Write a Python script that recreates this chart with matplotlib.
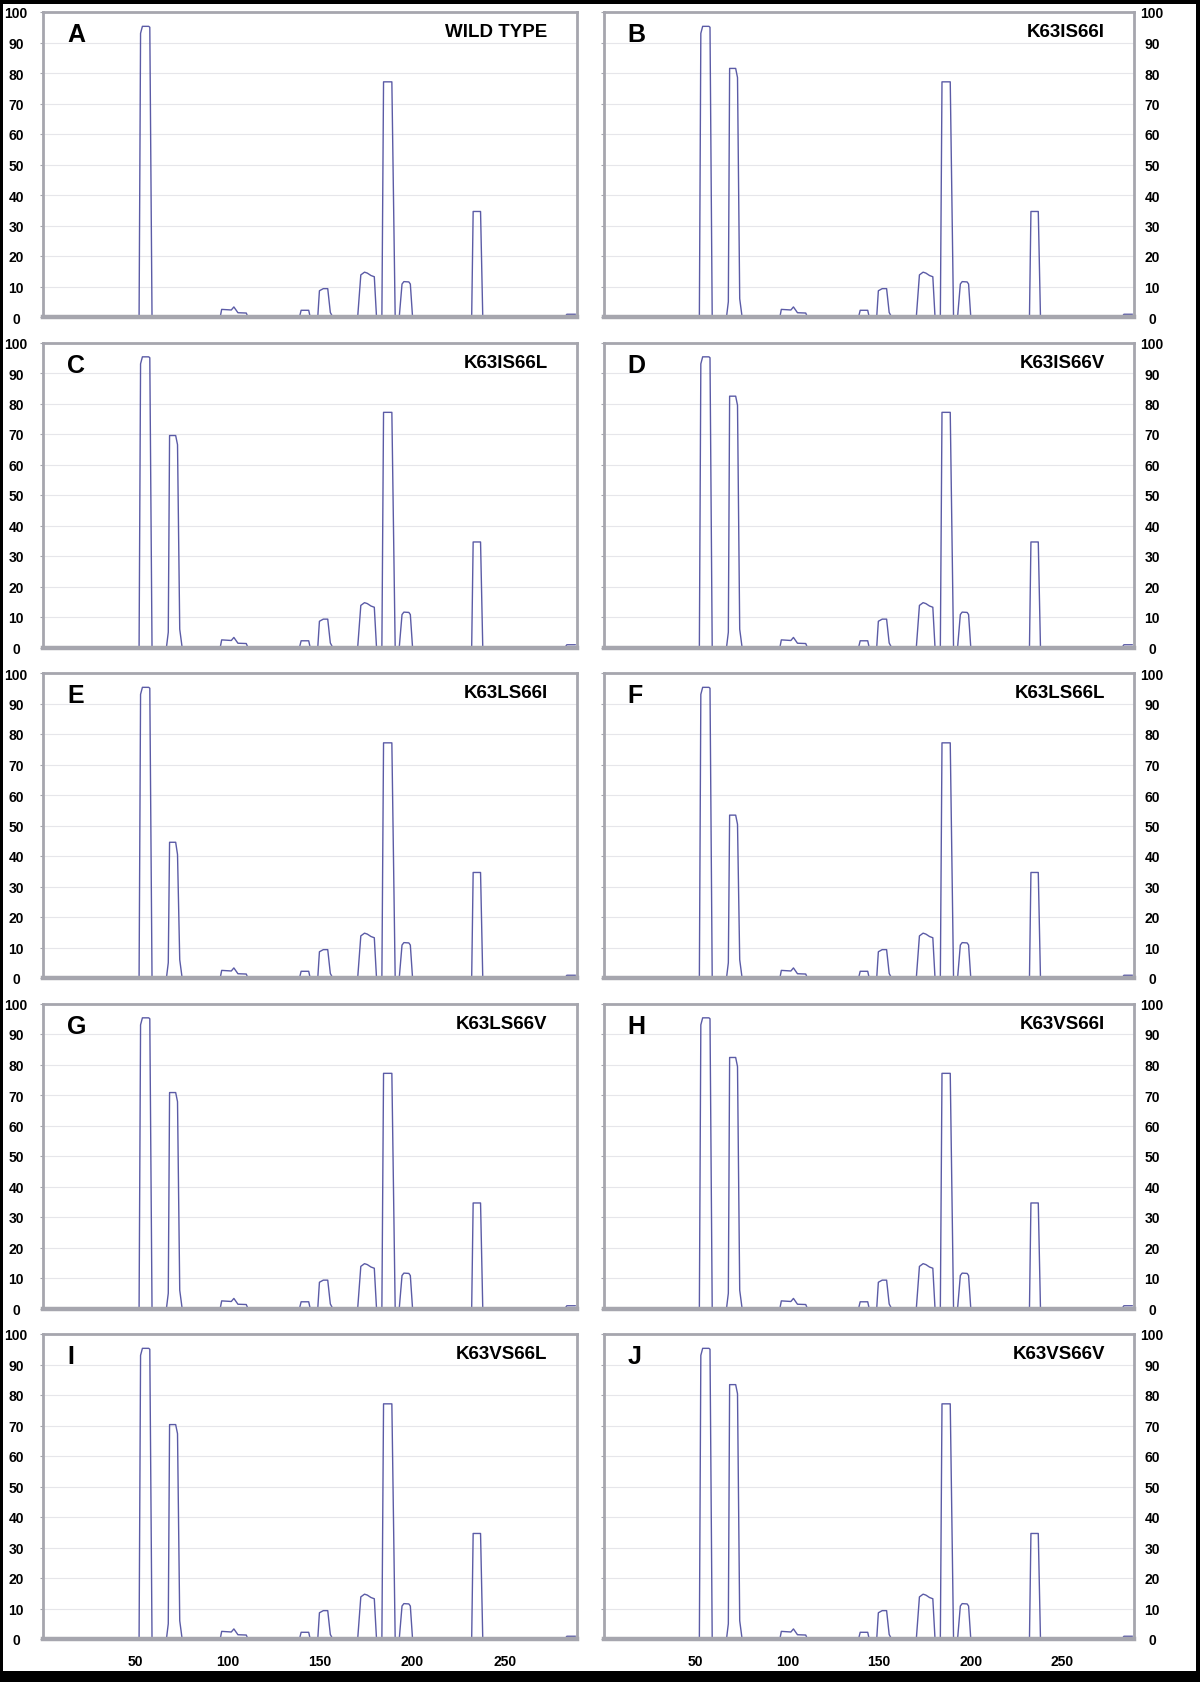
import matplotlib
matplotlib.use("Agg")
import matplotlib.pyplot as plt
from matplotlib.patches import Rectangle

plt.rcParams['font.family'] = ['Liberation Sans', 'DejaVu Sans']

# panel labels and names
letters = ["A", "B", "C", "D", "E", "F", "G", "H", "I", "J"]
names = ["WILD TYPE", "K63IS66I", "K63IS66L", "K63IS66V", "K63LS66I",
         "K63LS66L", "K63LS66V", "K63VS66I", "K63VS66L", "K63VS66V"]

# trace shared by all panels (position, %)
shared_x = [1, 52.0, 52.8, 53.8, 57.2, 57.8, 59.0,
            95.9, 96.7, 101.9, 103.3, 105.5, 110.0, 110.9,
            138.8, 139.7, 143.8, 144.6,
            148.7, 149.6, 151.7, 154.1, 155.5, 156.8,
            170.3, 172.0, 174.0, 175.5, 177.5, 179.3, 180.5,
            183.4, 184.3, 188.8, 190.6,
            192.8, 194.3, 195.3, 198.0, 198.8, 200.0,
            232.0, 232.8, 236.8, 238.0,
            282.5, 283.5, 288.0]
shared_y = [0, 0, 93.0, 95.3, 95.3, 95.0, 0,
            0, 2.5, 2.3, 3.3, 1.4, 1.3, 0,
            0, 2.2, 2.2, 0,
            0, 8.6, 9.3, 9.3, 1.5, 0,
            0, 13.8, 14.7, 14.4, 13.6, 13.2, 0,
            0, 77.1, 77.1, 0,
            0, 10.8, 11.6, 11.5, 10.8, 0,
            0, 34.6, 34.6, 0,
            0, 0.9, 0.9]

# second peak (only in the mutants)
second_x = [66.8, 67.8, 68.5, 71.8, 72.8, 74.0, 75.3]
second_y = [
    None,
    [0, 5, 81.5, 81.5, 78.5, 6, 0],
    [0, 5, 69.5, 69.5, 66.5, 6, 0],
    [0, 5, 82.4, 82.4, 79.4, 6, 0],
    [0, 5, 44.5, 44.5, 40.5, 6, 0],
    [0, 5, 53.4, 53.4, 50.4, 6, 0],
    [0, 5, 70.8, 70.8, 67.8, 6, 0],
    [0, 5, 82.3, 82.3, 79.3, 6, 0],
    [0, 5, 70.3, 70.3, 67.3, 6, 0],
    [0, 5, 83.4, 83.4, 80.4, 6, 0],
]

y_ticks = list(range(0, 101, 10))
x_ticks = [50, 100, 150, 200, 250]

W, H = 1200, 1683
col_left = [43, 604]
col_width = [534, 530]
row_top = [13, 343.5, 674, 1004.5, 1335]
row_h = 305

frame_col = '#a6a6ae'
line_col = '#5b5ba6'

fig = plt.figure(figsize=(W / 100, H / 100), dpi=100)

for i in range(10):
    r, c = divmod(i, 2)
    ax = fig.add_axes([col_left[c] / W, 1 - (row_top[r] + row_h) / H,
                       col_width[c] / W, row_h / H])

    pts = list(zip(shared_x, shared_y))
    if second_y[i] is not None:
        pts += list(zip(second_x, second_y[i]))
    pts.sort()
    ax.plot([p[0] for p in pts], [p[1] for p in pts], color=line_col, lw=1.0)

    ax.set_xlim(0, 289)
    ax.set_ylim(0, 100)
    ax.set_yticks(y_ticks)
    ax.yaxis.grid(True, color='#e6e6ea', lw=0.8)
    ax.set_axisbelow(True)

    for side in ['top', 'left', 'right']:
        ax.spines[side].set_color(frame_col)
        ax.spines[side].set_linewidth(2)
    ax.spines['bottom'].set_color(frame_col)
    ax.spines['bottom'].set_linewidth(3.2)

    ax.tick_params(axis='y', direction='out', length=2.5, width=0.8,
                   color=frame_col, left=True, right=False, labelsize=10)
    if c == 0:
        ax.tick_params(axis='y', labelleft=True, labelright=False, pad=16.9)
    else:
        ax.tick_params(axis='y', labelleft=False, labelright=True, pad=10.5)
    for t in ax.get_yticklabels():
        t.set_horizontalalignment('center')
        t.set_fontweight('bold')

    if r == 4:
        ax.set_xticks(x_ticks)
        ax.tick_params(axis='x', length=0, pad=11, labelsize=10)
        for t in ax.get_xticklabels():
            t.set_fontweight('bold')
    else:
        ax.set_xticks([])

    ax.text(0.045, 0.927, letters[i], transform=ax.transAxes, ha='left',
            va='center', fontsize=18, fontweight='bold')
    ax.text(0.945, 0.935, names[i], transform=ax.transAxes, ha='right',
            va='center', fontsize=13.5, fontweight='bold')

# black frame around the figure
for (x0, y0, w, h) in [(0, 0, 1200, 5), (0, 0, 3, 1683),
                       (1196, 0, 4, 1683), (0, 1672, 1200, 11)]:
    fig.add_artist(Rectangle((x0 / W, 1 - (y0 + h) / H), w / W, h / H,
                             transform=fig.transFigure, color='black', lw=0))

fig.savefig("out.png", dpi=100)
